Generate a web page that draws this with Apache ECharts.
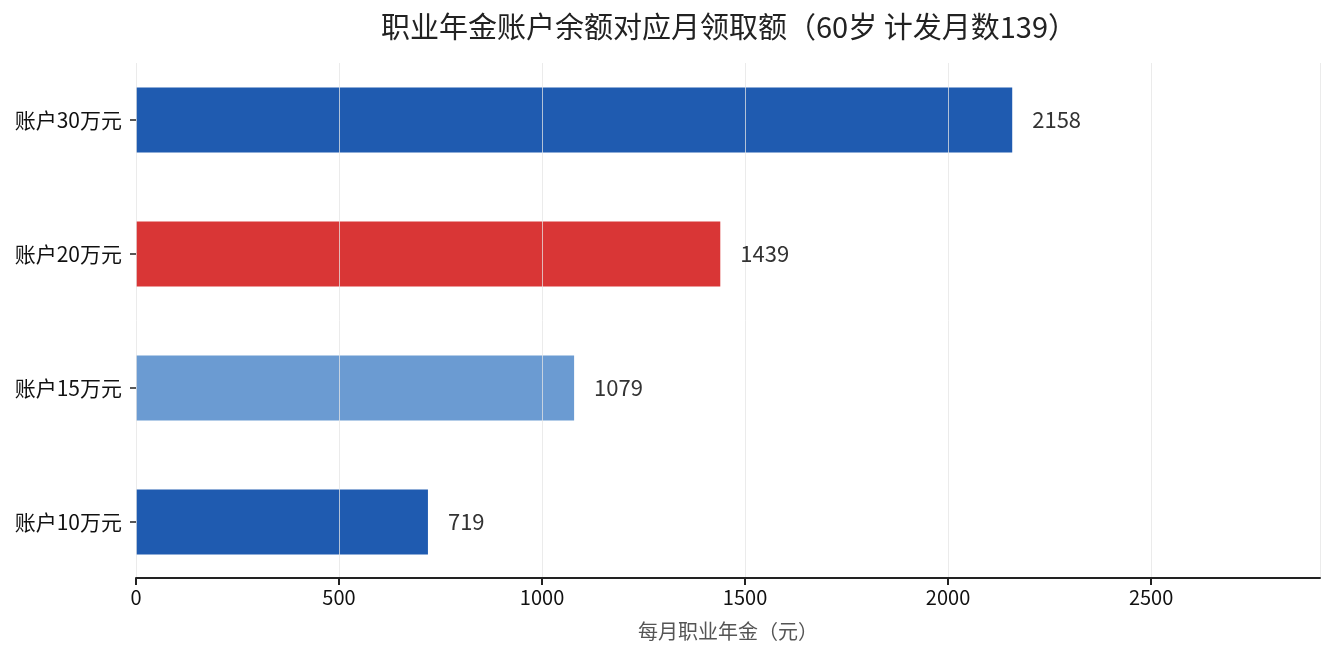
<!DOCTYPE html>
<html>
<head>
<meta charset="utf-8">
<script src="https://cdn.jsdelivr.net/npm/echarts@6/dist/echarts.min.js"></script>
<style>
html,body{margin:0;padding:0;background:#fff;}
#main{width:1335px;height:660px;}
</style>
</head>
<body>
<div id="main"></div>
<script>
var categories = ['账户10万元', '账户15万元', '账户20万元', '账户30万元'];
var monthly = [719, 1079, 1439, 2158];
var barColors = ['#1f5bb0', '#6b9bd2', '#d93636', '#1f5bb0'];
var xMax = 2916;

var font = '"Noto Sans CJK SC", "Noto Sans", sans-serif';

var myChart = echarts.init(document.getElementById('main'));

myChart.setOption({
  animation: false,
  textStyle: { fontFamily: font },
  title: {
    text: '职业年金账户余额对应月领取额（60岁 计发月数139）',
    left: 376,
    top: 7,
    textStyle: { fontFamily: font, fontSize: 29, fontWeight: 'normal', color: '#222' }
  },
  grid: [
    // 柱子所在区域
    { left: 136, right: 15, top: 53, height: 536 },
    // 坐标轴/网格线区域
    { left: 136, right: 15, top: 63, height: 515 }
  ],
  xAxis: [
    { gridIndex: 0, type: 'value', min: 0, max: xMax, show: false },
    {
      gridIndex: 1, type: 'value', min: 0, max: xMax, interval: 500, z: 3,
      name: '每月职业年金（元）',
      nameLocation: 'middle',
      nameGap: 43,
      nameTextStyle: { fontFamily: font, fontSize: 20, color: '#555' },
      axisLine: { show: true, onZero: false, lineStyle: { color: '#222', width: 2 } },
      axisTick: { show: true, length: 7, lineStyle: { color: '#222', width: 2 } },
      axisLabel: { fontFamily: font, fontSize: 20, color: '#111', margin: 9,
        showMaxLabel: false,
        formatter: function (v) { return String(v); } },
      splitLine: { show: true, lineStyle: { color: 'rgba(228,228,228,0.75)', width: 1 } }
    }
  ],
  yAxis: [
    {
      gridIndex: 0, type: 'category', data: categories,
      axisLine: { show: false },
      axisTick: { show: true, alignWithLabel: true, length: 6, lineStyle: { color: '#222', width: 1.5 } },
      axisLabel: { fontFamily: font, fontSize: 21, color: '#111', margin: 14 }
    },
    { gridIndex: 1, type: 'value', show: false }
  ],
  series: [
    {
      type: 'bar',
      xAxisIndex: 0, yAxisIndex: 0,
      barWidth: '48.5%',
      data: monthly.map(function (v, i) {
        return { value: v, itemStyle: { color: barColors[i] } };
      })
    },
    {
      // 数值标签放在网格线之上
      type: 'bar',
      xAxisIndex: 0, yAxisIndex: 0,
      barWidth: '48.5%',
      barGap: '-100%',
      z: 10,
      itemStyle: { color: 'rgba(0,0,0,0)' },
      label: {
        show: true, position: 'right', distance: 20,
        fontFamily: font, fontSize: 22, color: '#333'
      },
      data: monthly
    }
  ]
});
</script>
</body>
</html>
